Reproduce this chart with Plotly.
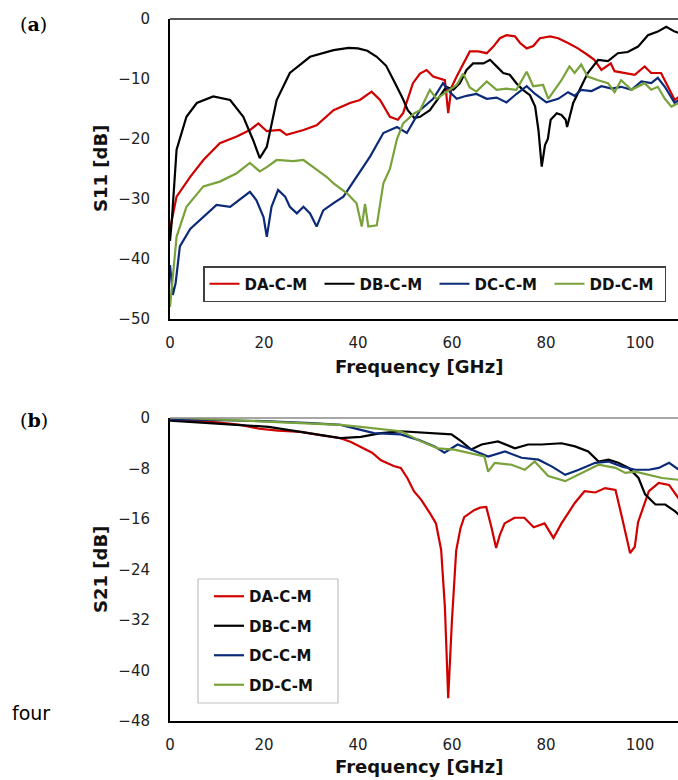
import plotly.graph_objects as go

# ---------------- data: S11 (top) ----------------
names = ["DA-C-M", "DB-C-M", "DC-C-M", "DD-C-M"]
colors = ["#d00000", "#000000", "#0b2a78", "#79a23a"]

s11_da_f = [0, 1.4, 4.3, 7.1, 10.6, 14.2, 17, 18.8, 20.6, 23.4, 24.8, 28.4, 31.2, 34.8, 38.3, 40.4, 42.9, 44.7, 46.8, 48.5, 49.6, 51.7, 53.2, 54.6, 56, 57.4, 58.5, 59.2, 59.9, 61, 62.4, 63.8, 65.6, 67.4, 68.8, 70.2, 71.6, 73.4, 74.5, 75.9, 77.3, 78.7, 80.9, 82.6, 84.7, 86.8, 88.9, 90.3, 91.8, 93.8, 94.6, 96.7, 98.9, 101, 102.4, 104.5, 106, 107.4, 108.2]
s11_da_v = [-35, -29.6, -26.3, -23.5, -20.7, -19.6, -18.5, -17.4, -18.7, -18.5, -19.3, -18.5, -17.7, -15.2, -14, -13.5, -12.1, -13.5, -16.3, -16.8, -15.7, -10.7, -9.1, -8.5, -9.6, -9.9, -10.2, -15.7, -11.4, -9.6, -7.4, -5.4, -5.4, -5.7, -4.6, -3.2, -2.7, -2.9, -4, -4.9, -4.5, -3.2, -2.9, -3.2, -4, -4.9, -6, -6.8, -8.5, -7.4, -8.7, -9, -9.3, -7.9, -9, -9, -11.3, -13.5, -13]

s11_db_f = [0, 0.4, 1.4, 3.5, 5.7, 9.2, 12.8, 15.6, 17.7, 19.1, 20.6, 22.7, 25.5, 29.8, 34.8, 38, 40, 42, 44, 46, 47.9, 49.5, 50.6, 52, 53.2, 55.3, 57.4, 58.8, 60.3, 61.7, 63.1, 64.5, 66.7, 68.1, 69.5, 70.9, 72.3, 73.7, 75.1, 76.6, 77.7, 78.4, 79.1, 79.8, 80.4, 81, 82.3, 83.3, 84.2, 84.5, 85.8, 87.5, 88.9, 91.1, 93.2, 95.3, 97.4, 99.6, 101.7, 103.8, 105.6, 107.4, 108.2]
s11_db_v = [-37, -33.5, -21.8, -16.3, -14, -12.9, -13.5, -16.3, -20.2, -23.2, -21.3, -13.5, -9, -6.3, -5.2, -4.8, -4.9, -5.3, -6.3, -7.8, -10.7, -13.2, -15.2, -16.5, -16.3, -15.2, -12.9, -11.3, -11.8, -10.7, -8.5, -7.4, -7.4, -6.8, -7.9, -9, -9.3, -10.7, -11.8, -12.7, -14.6, -18.5, -24.6, -21, -20, -16.8, -15.7, -16, -16.8, -18, -14, -11.3, -9, -6.8, -7, -5.7, -5.5, -4.6, -2.7, -2.1, -1.3, -2.1, -2.3]

s11_dc_f = [0, 0.6, 1.2, 2.1, 4.3, 7.1, 9.9, 12.8, 15.6, 17, 18.4, 19.9, 20.6, 21.6, 23, 24.5, 25.5, 27, 28.4, 29.8, 31.2, 32.6, 34.8, 36.9, 39.7, 42.6, 45.4, 46.8, 48.3, 50.4, 51.5, 53.2, 56, 58.1, 59.6, 61, 63.1, 65.2, 67.4, 69.5, 71.6, 73.7, 75.9, 77.7, 80.1, 82.6, 84.7, 86.1, 87.5, 89.7, 91.8, 94, 96, 98.2, 100.3, 102.4, 103.8, 105.3, 107.4, 108.2]
s11_dc_v = [-41, -46, -44, -37.9, -35, -33, -31, -31.3, -29.6, -28.8, -30.2, -33, -36.3, -31.3, -28.5, -29.6, -31.3, -32.4, -31.3, -32.4, -34.6, -31.9, -30.7, -29.6, -26.3, -22.9, -19, -18.5, -18, -19, -17.5, -15.2, -13.3, -10.7, -12.2, -13.3, -12.8, -12.5, -13.3, -13.1, -13.9, -12.5, -11.2, -12.5, -13.9, -13.3, -12.2, -12.8, -11.8, -12, -11.2, -11.6, -11.3, -11.8, -10.4, -10.7, -9.8, -11.3, -14, -13.5]

s11_dd_f = [0, 0.5, 1, 1.4, 3.5, 7.1, 10.6, 14.2, 17, 19.1, 20.6, 22.7, 26.2, 28.4, 31.2, 33.3, 34.8, 37.6, 39.7, 40.8, 41.5, 42.2, 44, 45.4, 46.8, 48.3, 49.6, 52, 53.2, 55.3, 56.7, 58.8, 61, 62.4, 63.8, 65.2, 67.4, 69.5, 71.6, 73.7, 75.9, 77.3, 79.4, 80.5, 81.5, 83.3, 85, 86.1, 87.5, 88.9, 91.1, 93.2, 94.6, 96, 98.2, 99.6, 101, 102.4, 103.8, 105.3, 106.7, 108.2]
s11_dd_v = [-48, -44, -39.6, -36.3, -31.3, -27.9, -27.1, -25.7, -24, -25.4, -24.7, -23.5, -23.7, -23.5, -25.1, -26.3, -27.4, -29, -30.7, -34.6, -30.8, -34.6, -34.4, -27.4, -25, -20, -17.4, -15.7, -15.2, -11.8, -13.3, -12.2, -11, -9.1, -11.4, -12.1, -10.4, -11.8, -11.6, -11.8, -8.8, -11.2, -11, -13.3, -12.2, -10.2, -7.9, -9, -7.6, -9.6, -10.2, -10.7, -12.2, -10.2, -11.8, -11.3, -10.7, -11.8, -11.3, -13.3, -14.6, -14]

# ---------------- data: S21 (bottom) ----------------
s21_da_f = [0, 5, 10, 15, 19, 23, 27.8, 32, 36.3, 38.5, 40.6, 43, 44.9, 47.6, 49.1, 50.5, 51.9, 53.5, 55.5, 56.6, 57.7, 58.5, 59.2, 60, 60.9, 61.8, 62.6, 64.7, 66, 67.3, 68.4, 69.4, 70.2, 71.2, 73.3, 75.4, 77.4, 79.7, 81.6, 83.3, 84.8, 86.1, 88.2, 90.5, 92.6, 94.8, 96.2, 97.9, 98.9, 99.6, 101.9, 104, 106.2, 108.3]
s21_da_v = [-0.2, -0.4, -0.7, -1.1, -1.7, -2, -2.2, -2.7, -3.2, -3.8, -4.6, -5.5, -6.7, -7.6, -7.9, -9.5, -11.6, -13, -15.3, -16.7, -20.9, -30, -44.4, -32, -21, -17.5, -15.7, -14.6, -14.2, -14.1, -17.3, -20.6, -18.5, -16.7, -15.8, -15.8, -17.3, -16.7, -19, -16.7, -15, -13.5, -11.6, -11.8, -11.1, -11.4, -15.8, -21.4, -20.4, -16.5, -11.6, -10.3, -10.6, -12.8]

s21_db_f = [0, 6, 12.8, 21, 27.8, 32, 36.3, 40.6, 44.9, 49.1, 56.3, 59.9, 62, 64.1, 66.3, 69.8, 73.4, 76.2, 79.1, 83.3, 86.2, 89, 91.2, 93.3, 95.4, 97.6, 99.7, 101.1, 103.3, 105.4, 107.5, 108.5]
s21_db_v = [-0.4, -0.7, -1.1, -1.4, -2.2, -2.7, -3.2, -3, -2.4, -2.1, -2.4, -2.6, -3.7, -5, -4.2, -3.7, -4.8, -4.2, -4.2, -4, -4.5, -5.3, -6.9, -6.6, -7.1, -7.9, -9.5, -12.1, -13.7, -13.7, -14.8, -15.5]

s21_dc_f = [0, 10, 20, 30, 36.3, 43.4, 49.1, 53, 56.3, 58.4, 61.2, 64.1, 67.7, 71.3, 74.8, 78.4, 81.3, 84.1, 87, 90.5, 93.3, 96.2, 99, 101.9, 104, 106.2, 108.3]
s21_dc_v = [-0.2, -0.3, -0.5, -0.8, -1.1, -2.4, -2.6, -3.5, -4.5, -5.5, -4.2, -5, -6.1, -5.3, -6.3, -6.6, -7.7, -9, -8.2, -7.1, -6.9, -7.7, -8.2, -8.2, -7.9, -7.1, -8.2]

s21_dd_f = [0, 10, 20, 27.8, 36.3, 40.6, 47, 49.1, 53.4, 57, 60.5, 63.4, 66.9, 67.7, 69.1, 72.7, 75.5, 77.6, 80.5, 84.1, 87.6, 91.2, 94.8, 96.9, 99, 101.9, 104.7, 108.3]
s21_dd_v = [0.1, -0.2, -0.5, -0.8, -1.1, -1.4, -1.9, -2.1, -3.7, -4.8, -5, -5.5, -6.1, -8.5, -7.1, -7.4, -8.2, -6.9, -9.2, -10, -8.7, -7.4, -7.9, -8.7, -8.5, -9, -9.5, -9.8]

s11_ticks = [0, -10, -20, -30, -40, -50]
s21_ticks = [0, -8, -16, -24, -32, -40, -48]
freq_ticks = [0, 20, 40, 60, 80, 100]

W, H = 678, 780
FONT = "DejaVu Sans"

s11 = [(s11_da_f, s11_da_v), (s11_db_f, s11_db_v), (s11_dc_f, s11_dc_v), (s11_dd_f, s11_dd_v)]
s21 = [(s21_da_f, s21_da_v), (s21_db_f, s21_db_v), (s21_dc_f, s21_dc_v), (s21_dd_f, s21_dd_v)]

fig = go.Figure()
for i, (f, v) in enumerate(s11):
    fig.add_trace(go.Scatter(x=f, y=v, mode="lines", name=names[i],
                             line=dict(color=colors[i], width=2.2),
                             xaxis="x", yaxis="y", legend="legend"))
for i, (f, v) in enumerate(s21):
    fig.add_trace(go.Scatter(x=f, y=v, mode="lines", name=names[i],
                             line=dict(color=colors[i], width=2.2),
                             xaxis="x2", yaxis="y2", legend="legend2",
                             legendgroup="g%d" % i))

def px_x(p):
    return p / W

def px_y(p):
    return 1 - p / H

xr = [0, 108.1]
axis_common = dict(showgrid=False, zeroline=False, showline=True, linecolor="#000000",
                   linewidth=2, ticks="", automargin=False,
                   tickfont=dict(family=FONT, size=15, color="#222222"))

fig.update_layout(
    width=W, height=H, margin=dict(l=0, r=0, t=0, b=0, autoexpand=False),
    paper_bgcolor="white", plot_bgcolor="white",
    xaxis=dict(domain=[px_x(170), 1], range=xr, anchor="y", tickvals=freq_ticks,
               ticklabelstandoff=9, **axis_common),
    yaxis=dict(domain=[px_y(319), px_y(19)], range=[-50, 0], anchor="x", tickvals=s11_ticks,
               ticklabelstandoff=15, **axis_common),
    xaxis2=dict(domain=[px_x(170), 1], range=xr, anchor="y2", tickvals=freq_ticks,
                ticklabelstandoff=9, **axis_common),
    yaxis2=dict(domain=[px_y(721), px_y(418)], range=[-48, 0], anchor="x2", tickvals=s21_ticks,
                ticklabelstandoff=15, **axis_common),
    legend=dict(orientation="h", x=px_x(203), y=px_y(266), xanchor="left", yanchor="top",
                bgcolor="white", bordercolor="#404040", borderwidth=1.5,
                font=dict(family=FONT, size=15, color="#111111", weight="bold"),
                entrywidth=70, entrywidthmode="pixels", itemwidth=30),
    legend2=dict(orientation="v", x=px_x(209), y=px_y(580), xanchor="left", yanchor="top",
                 bgcolor="rgba(0,0,0,0)", borderwidth=0,
                 font=dict(family=FONT, size=15, color="#111111", weight="bold"),
                 tracegroupgap=7, itemwidth=30),
    showlegend=True,
)

# top border lines (gray) of each panel
fig.add_shape(type="line", xref="paper", yref="paper", x0=px_x(170), x1=1, y0=px_y(19), y1=px_y(19),
              line=dict(color="#555555", width=2))
fig.add_shape(type="line", xref="paper", yref="paper", x0=px_x(170), x1=1, y0=px_y(418), y1=px_y(418),
              line=dict(color="#888888", width=1.5))
# frame of the lower legend
fig.add_shape(type="rect", xref="paper", yref="paper", x0=px_x(198), x1=px_x(338),
              y0=px_y(703), y1=px_y(579), fillcolor="white", layer="above",
              line=dict(color="#c0c0c0", width=1.2))

annots = [
    dict(text="S11 [dB]", x=px_x(100), y=px_y(169), textangle=-90,
         font=dict(family=FONT, size=18, color="#111111", weight="bold")),
    dict(text="S21 [dB]", x=px_x(100), y=px_y(570), textangle=-90,
         font=dict(family=FONT, size=18, color="#111111", weight="bold")),
    dict(text="Frequency [GHz]", x=px_x(419), y=px_y(366),
         font=dict(family=FONT, size=18, color="#111111", weight="bold")),
    dict(text="Frequency [GHz]", x=px_x(419), y=px_y(766),
         font=dict(family=FONT, size=18, color="#111111", weight="bold")),
]
for a in annots:
    a.update(xanchor="center", yanchor="middle")
annots += [
    dict(text="(<b>a</b>)", x=px_x(18), y=px_y(24), xanchor="left", yanchor="middle",
         font=dict(family="DejaVu Serif", size=19, color="#000000")),
    dict(text="(<b>b</b>)", x=px_x(18), y=px_y(420), xanchor="left", yanchor="middle",
         font=dict(family="DejaVu Serif", size=19, color="#000000")),
    dict(text="four", x=px_x(10), y=px_y(713), xanchor="left", yanchor="middle",
         font=dict(family=FONT, size=19, color="#000000")),
]
for a in annots:
    a.update(xref="paper", yref="paper", showarrow=False)
    fig.add_annotation(**a)

fig.write_html("out.html")
